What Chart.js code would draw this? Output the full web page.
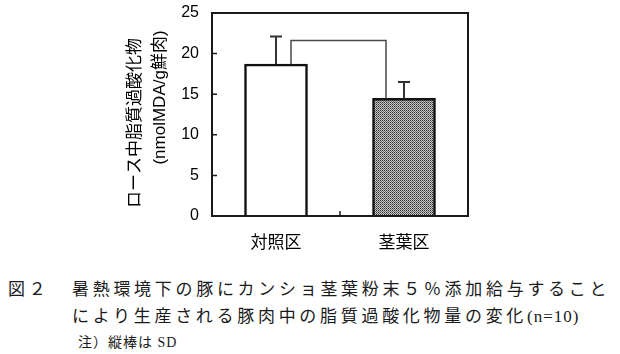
<!DOCTYPE html>
<html>
<head>
<meta charset="utf-8">
<script src="https://cdn.jsdelivr.net/npm/chart.js@4.4.0/dist/chart.umd.min.js"></script>
<style>
  body { margin: 0; background: #fff; width: 620px; height: 354px; position: relative; overflow: hidden; }
  #chart { position: absolute; left: 0; top: 0; }
  .cap { position: absolute; font-family: 'Liberation Serif', 'Noto Sans CJK JP', serif; color: #1a1a1a; white-space: nowrap; }
  .l1, .l2 { font-size: 17px; line-height: 20px; letter-spacing: 3.7px; }
  .narrow { letter-spacing: 1px; }
  .note { font-size: 14px; line-height: 16px; letter-spacing: 1px; }
</style>
</head>
<body>
<canvas id="chart" width="620" height="268"></canvas>
<div class="cap l1" style="left:8px; top:280px;">図２</div>
<div class="cap l1" style="left:72px; top:280px;">暑熱環境下の豚にカンショ茎葉粉末５％添加給与すること</div>
<div class="cap l2" style="left:72px; top:307px;">により生産される豚肉中の脂質過酸化物量の変化<span class="narrow">(n=10)</span></div>
<div class="cap note" style="left:78px; top:335px;">注）縦棒は SD</div>
<script>
// DATA
const categories = ['対照区', '茎葉区'];
const means = [18.7, 14.5];
const sds = [3.4, 2.0];
const bracketLevel = 21.6;   // top of the line linking the two bars
const yMin = 0, yMax = 25, yStep = 5;
const yTitle = ['ロース中脂質過酸化物　', '　　(nmolMDA/g鮮肉)'];

// stipple fill for the second bar
function stipple() {
    const c = document.createElement('canvas');
    c.width = 2; c.height = 2;
    const g = c.getContext('2d');
    g.fillStyle = '#2a2a2a'; g.fillRect(0, 0, 1, 1);
    g.fillStyle = '#c8c8c8'; g.fillRect(1, 0, 1, 1);
    g.fillStyle = '#c8c8c8'; g.fillRect(0, 1, 1, 1);
    g.fillStyle = '#6a6a6a'; g.fillRect(1, 1, 1, 1);
    return document.getElementById('chart').getContext('2d').createPattern(c, 'repeat');
}

// frame, inward ticks, SD bars and the bracket
const extras = {
    id: 'extras',
    afterDatasetsDraw(chart) {
        const ctx = chart.ctx;
        const area = chart.chartArea;
        const x = chart.scales.x, y = chart.scales.y;
        const bars = chart.getDatasetMeta(0).data;
        ctx.save();

        // error bars (upper only)
        ctx.strokeStyle = '#333';
        ctx.lineWidth = 2;
        bars.forEach((b, i) => {
            const top = y.getPixelForValue(means[i] + sds[i]);
            ctx.beginPath();
            ctx.moveTo(b.x, y.getPixelForValue(means[i]));
            ctx.lineTo(b.x, top);
            ctx.moveTo(b.x - 6, top);
            ctx.lineTo(b.x + 6, top);
            ctx.stroke();
        });

        // bracket between the bars
        const bl = y.getPixelForValue(bracketLevel);
        ctx.strokeStyle = '#4a4a4a';
        ctx.lineWidth = 1.5;
        ctx.beginPath();
        ctx.moveTo(bars[0].x + 15, y.getPixelForValue(means[0]));
        ctx.lineTo(bars[0].x + 15, bl);
        ctx.lineTo(bars[1].x - 18, bl);
        ctx.lineTo(bars[1].x - 18, y.getPixelForValue(means[1]));
        ctx.stroke();

        // frame
        ctx.strokeStyle = '#1a1a1a';
        ctx.lineWidth = 2;
        ctx.strokeRect(area.left, area.top, area.right - area.left, area.bottom - area.top);

        // inward ticks
        ctx.lineWidth = 1.5;
        ctx.beginPath();
        y.ticks.forEach(t => {
            const py = y.getPixelForValue(t.value);
            ctx.moveTo(area.left, py);
            ctx.lineTo(area.left + 5, py);
        });
        const mid = (x.getPixelForValue(0) + x.getPixelForValue(1)) / 2;
        ctx.moveTo(mid, area.bottom);
        ctx.lineTo(mid, area.bottom - 5);
        ctx.stroke();

        ctx.restore();
    }
};

new Chart(document.getElementById('chart'), {
    type: 'bar',
    data: {
        labels: categories,
        datasets: [{
            data: means,
            backgroundColor: ['#ffffff', stipple()],
            borderColor: '#111',
            borderWidth: 2.5,
            barThickness: 63
        }]
    },
    options: {
        responsive: false,
        animation: false,
        layout: { padding: { left: 120, right: 152, top: 13, bottom: 12 } },
        plugins: {
            legend: { display: false },
            tooltip: { enabled: false }
        },
        scales: {
            x: {
                grid: { display: false, drawTicks: false },
                border: { display: false },
                ticks: {
                    color: '#000',
                    padding: 15,
                    font: { family: "'Noto Sans CJK JP'", size: 17 }
                },
                afterFit: s => { s.height = 40; }
            },
            y: {
                min: yMin,
                max: yMax,
                grid: { display: false, drawTicks: false },
                border: { display: false },
                ticks: {
                    stepSize: yStep,
                    color: '#000',
                    padding: 13,
                    font: { family: "'Liberation Sans'", size: 16 }
                },
                title: {
                    display: true,
                    text: yTitle,
                    color: '#000',
                    padding: { top: 3, bottom: 0 },
                    font: { family: "'Liberation Sans', 'Noto Sans CJK JP'", size: 17, lineHeight: 1.47 }
                },
                afterFit: s => {
                    s.width = 92;
                    s.paddingTop = 0;
                    s.paddingBottom = 0;
                }
            }
        }
    },
    plugins: [extras]
});
</script>
</body>
</html>
